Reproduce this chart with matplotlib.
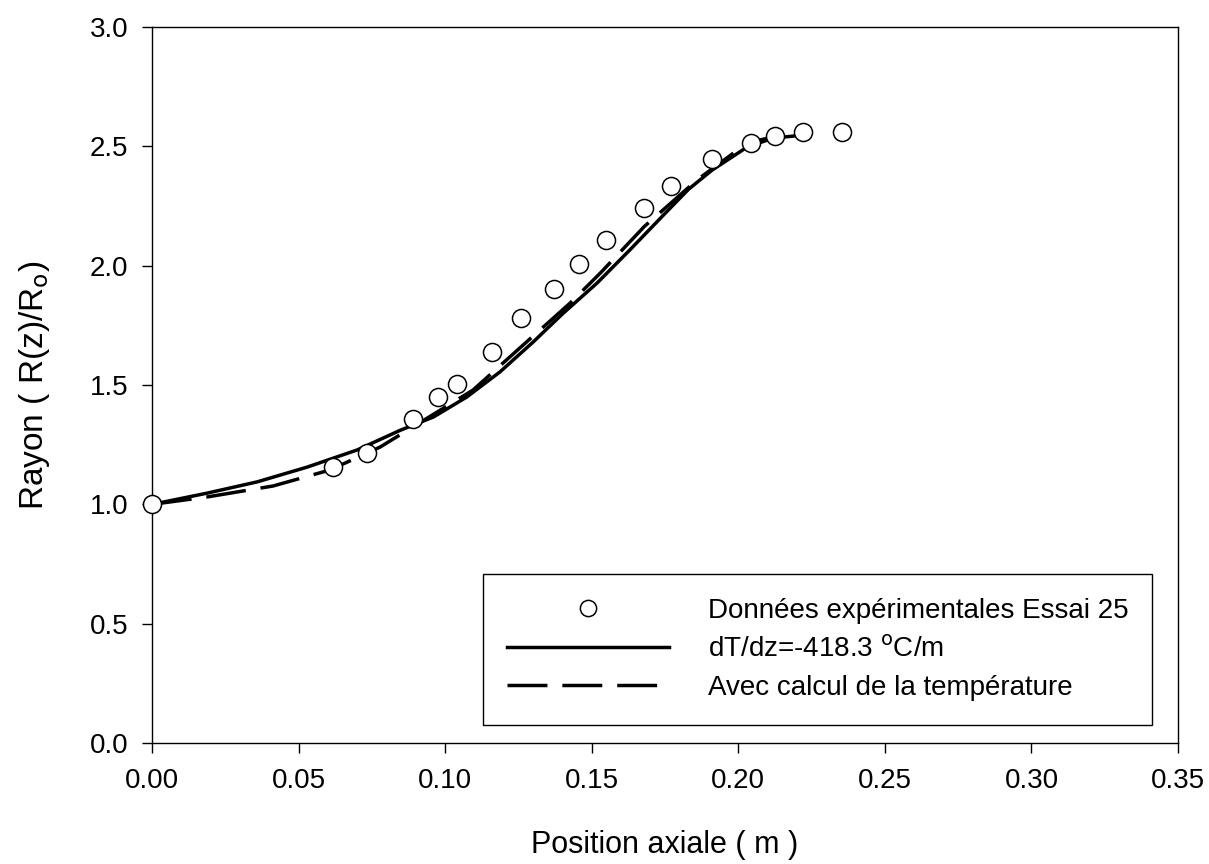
import matplotlib
matplotlib.use("Agg")
import matplotlib.pyplot as plt

plt.rcParams["font.family"] = ["Liberation Sans", "DejaVu Sans"]

# Experimental points (Essai 25)
exp_z = [0.0, 0.0618, 0.0733, 0.089, 0.0976, 0.104, 0.116, 0.126, 0.137,
         0.1457, 0.155, 0.168, 0.177, 0.191, 0.2044, 0.2125, 0.222, 0.2354]
exp_r = [1.0, 1.156, 1.215, 1.357, 1.45, 1.504, 1.638, 1.78, 1.902,
         2.007, 2.108, 2.242, 2.334, 2.447, 2.514, 2.543, 2.56, 2.56]

# Model with constant gradient dT/dz = -418.3 C/m
grad_z = [0.0, 0.0188, 0.0358, 0.0529, 0.070, 0.0846, 0.096, 0.1074, 0.1187,
          0.13, 0.1402, 0.1518, 0.163, 0.1743, 0.183, 0.191, 0.203, 0.212, 0.2187]
grad_r = [1.0, 1.047, 1.094, 1.156, 1.228, 1.31, 1.366, 1.45, 1.555,
          1.68, 1.80, 1.927, 2.066, 2.21, 2.32, 2.40, 2.497, 2.535, 2.543]

# Model with temperature calculation
temp_z = [0.0, 0.0188, 0.0413, 0.0607, 0.0778, 0.090, 0.1095, 0.125, 0.1426,
          0.153, 0.168, 0.186, 0.203, 0.212]
temp_r = [1.0, 1.031, 1.077, 1.144, 1.24, 1.332, 1.479, 1.65, 1.843,
          1.97, 2.165, 2.36, 2.514, 2.54]

fig = plt.figure(figsize=(12.09, 8.64), dpi=100)
ax = fig.add_axes([0.1257, 0.14, 0.8487, 0.8287])

ax.plot(grad_z, grad_r, color="black", lw=2.5, label="dT/dz=-418.3 $^{\\mathrm{o}}$C/m",
        zorder=2)
ax.plot(temp_z, temp_r, color="black", lw=2.5, dashes=(11.5, 4.3),
        label="Avec calcul de la température", zorder=2)
ax.plot(exp_z, exp_r, ls="none", marker="o", ms=13, mfc="white", mec="black",
        mew=1.1, label="Données expérimentales Essai 25", zorder=3, clip_on=False)

ax.set_xlim(0, 0.35)
ax.set_ylim(0, 3.0)
ax.set_xticks([0.0, 0.05, 0.10, 0.15, 0.20, 0.25, 0.30, 0.35])
ax.set_xticklabels(["0.00", "0.05", "0.10", "0.15", "0.20", "0.25", "0.30", "0.35"])
ax.set_yticks([0.0, 0.5, 1.0, 1.5, 2.0, 2.5, 3.0])
ax.set_yticklabels(["0.0", "0.5", "1.0", "1.5", "2.0", "2.5", "3.0"])
ax.tick_params(direction="out", length=7, width=1, labelsize=20)
ax.tick_params(axis="x", pad=11)
ax.tick_params(axis="y", pad=10)
for s in ax.spines.values():
    s.set_linewidth(1.0)

ax.set_xlabel("Position axiale ( m )", fontsize=22, labelpad=26)
ax.set_ylabel("Rayon ( R(z)/R$_{\\mathrm{o}}$)", fontsize=24, labelpad=27)

handles, labels = ax.get_legend_handles_labels()
order = [2, 0, 1]
leg = ax.legend([handles[i] for i in order], [labels[i] for i in order],
                loc="upper left", bbox_to_anchor=(483 / 1209, 1 - 574 / 864),
                bbox_transform=fig.transFigure, fontsize=20, frameon=True,
                fancybox=False, edgecolor="black", framealpha=1,
                handlelength=5.85, handletextpad=1.4, borderpad=0.85,
                borderaxespad=0, labelspacing=0.45, markerscale=0.9)
leg.get_frame().set_linewidth(1.0)

fig.savefig("out.png", dpi=100)
